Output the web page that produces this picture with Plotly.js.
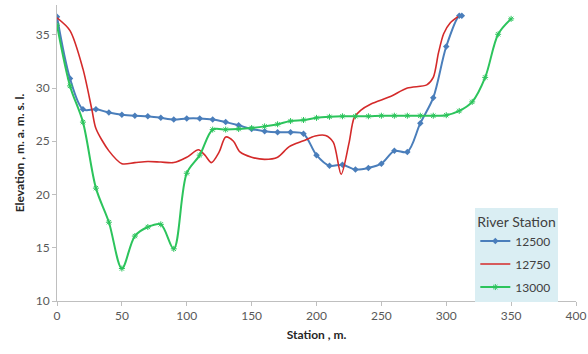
<!DOCTYPE html>
<html>
<head>
<meta charset="utf-8">
<script src="https://cdn.plot.ly/plotly-3.0.1.min.js"></script>
<style>html,body{margin:0;padding:0;background:#fff;}#chart{width:588px;height:354px;}</style>
</head>
<body>
<div id="chart"></div>
<script>
// River Station 12500
const st12500 = [0,10,20,30,40,50,60,70,80,90,100,110,120,130,140,150,160,170,180,190,200,210,220,230,240,250,260,270,280,290,300,310,312];
const el12500 = [36.7,30.9,28.0,28.0,27.7,27.5,27.4,27.35,27.2,27.05,27.15,27.15,27.05,26.8,26.5,26.15,25.95,25.85,25.85,25.7,23.7,22.7,22.8,22.35,22.5,22.9,24.1,24.0,26.7,29.1,33.9,36.8,36.8];

// River Station 12750
const st12750 = [0,10,20,27,30,40,50,60,70,80,90,100,109,114,119,125,130,136,141,150,160,170,179,190,199,207,213,219,225,229,234,242,257,270,285,290,294,298,303,309];
const el12750 = [36.6,35.4,31.8,27.9,26.2,24.1,22.9,23.0,23.1,23.05,23.0,23.5,24.2,23.7,23.0,24.0,25.4,25.0,24.0,23.5,23.3,23.5,24.5,25.05,25.5,25.55,24.9,21.9,24.8,27.2,27.9,28.5,29.2,30.0,30.3,31.0,33.3,35.1,36.1,36.7];

// River Station 13000
const st13000 = [0,10,20,30,40,50,60,70,80,90,100,110,120,130,140,150,160,170,180,190,200,210,220,230,240,250,260,270,280,290,300,310,320,330,340,350];
const el13000 = [35.9,30.2,26.8,20.6,17.4,13.05,16.1,16.95,17.2,14.9,22.0,23.7,26.1,26.1,26.15,26.25,26.4,26.6,26.9,27.0,27.2,27.3,27.35,27.35,27.35,27.4,27.4,27.4,27.4,27.4,27.45,27.85,28.7,31.0,35.05,36.5];

const names = ['12500','12750','13000'];
const xTicks = [0,50,100,150,200,250,300,350,400];
const yTicks = [10,15,20,25,30,35];

const font = "Lato, 'Open Sans', sans-serif";

const traces = [
  {x: st12500, y: el12500, name: names[0], legendgroup: 'a', mode: 'lines+markers', type: 'scatter',
   line: {color: '#4A7EBB', width: 2, shape: 'spline', smoothing: 0.9},
   marker: {symbol: 'diamond', size: 5, color: '#4A7EBB'}},
  {x: st12750, y: el12750, name: names[1], legendgroup: 'b', mode: 'lines', type: 'scatter',
   line: {color: '#D42A2A', width: 1.6, shape: 'spline', smoothing: 0.8}},
  {x: st13000, y: el13000, name: names[2], legendgroup: 'c', mode: 'lines+markers', type: 'scatter',
   line: {color: '#2CC45C', width: 2, shape: 'spline', smoothing: 0.9},
   marker: {symbol: 'asterisk-open', size: 5, color: '#2CC45C', line: {color: '#2CC45C', width: 1}}}
];

const layout = {
  width: 588, height: 354,
  margin: {l: 57, r: 12, t: 5, b: 53},
  paper_bgcolor: '#fff', plot_bgcolor: '#fff',
  font: {family: font, size: 12, color: '#595959'},
  showlegend: true,
  legend: {
    x: 0.806, y: 0.313, xanchor: 'left', yanchor: 'top',
    bgcolor: '#DAEEF3', borderwidth: 0,
    title: {text: 'River Station', font: {family: font, size: 14, color: '#404040'}},
    font: {family: font, size: 12, color: '#404040'},
    itemwidth: 30, tracegroupgap: 4
  },
  xaxis: {
    range: [0, 400], tickvals: xTicks, ticktext: xTicks.map(String),
    showgrid: false, zeroline: false, showline: true, linecolor: '#BFBFBF', linewidth: 1,
    ticks: 'outside', ticklen: 4, tickcolor: '#BFBFBF',
    tickfont: {family: font, size: 12, color: '#595959'},
    title: {text: '<b>Station , m.</b>', font: {family: font, size: 12, color: '#262626'}, standoff: 8}
  },
  yaxis: {
    range: [10, 37.8], tickvals: yTicks, ticktext: yTicks.map(String),
    showgrid: false, zeroline: false, showline: true, linecolor: '#BFBFBF', linewidth: 1,
    ticks: 'outside', ticklen: 4, tickcolor: '#BFBFBF',
    tickfont: {family: font, size: 12, color: '#595959'},
    title: {text: '<b>Elevation , m. a. m. s. l.</b>', font: {family: font, size: 12, color: '#262626'}, standoff: 8}
  }
};

Plotly.newPlot('chart', traces, layout, {displayModeBar: false, staticPlot: true});
</script>
</body>
</html>
